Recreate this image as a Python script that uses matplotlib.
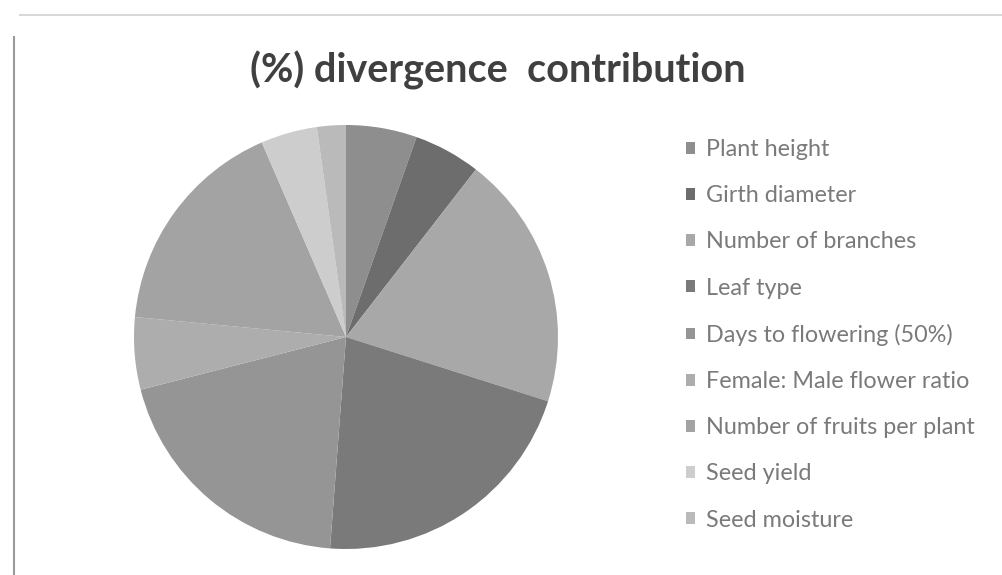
import matplotlib
matplotlib.use("Agg")
from matplotlib import pyplot as plt
from matplotlib.lines import Line2D

# values (% share of divergence)
traits = ["Plant height", "Girth diameter", "Number of branches", "Leaf type",
          "Days to flowering (50%)", "Female: Male flower ratio",
          "Number of fruits per plant", "Seed yield", "Seed moisture"]
contribution = [5.4, 5.1, 19.4, 21.3, 19.8, 5.5, 17.0, 4.3, 2.2]
shades = ["#8e8e8e", "#6d6d6d", "#a8a8a8", "#7a7a7a", "#959595",
          "#adadad", "#a3a3a3", "#cdcdcd", "#bababa"]

W, H = 1002, 575
fig = plt.figure(figsize=(W / 100, H / 100), dpi=100)
fig.patch.set_facecolor("white")

# pie centre and radius in pixels
cx, cy, r = 346, 337, 212
ax = fig.add_axes([(cx - r) / W, (H - cy - r) / H, 2 * r / W, 2 * r / H])
wedges, _ = ax.pie(contribution, colors=shades, startangle=90, counterclock=False,
                   radius=1, wedgeprops=dict(linewidth=0))
ax.set_xlim(-1, 1)
ax.set_ylim(-1, 1)
ax.set_aspect("equal")
ax.axis("off")

fig.text(498 / W, 1 - 70 / H, "(%) divergence  contribution", ha="center", va="center",
         fontsize=28.5, fontweight="bold", color="#404040", family="Lato")

fig.legend(wedges, traits, loc="upper left", bbox_to_anchor=(686 / W, 1 - 139 / H),
           frameon=False, prop={"family": "Lato", "size": 16.8}, labelcolor="#7a7a7a",
           handlelength=0.4, handleheight=0.4, handletextpad=0.45,
           labelspacing=1.08, borderaxespad=0, borderpad=0)

# faint chart-area border (top and left)
fig.add_artist(Line2D([20 / W, 1], [1 - 15 / H, 1 - 15 / H], transform=fig.transFigure,
                      color="#d8d8d8", linewidth=1.5))
fig.add_artist(Line2D([14 / W, 14 / W], [0, 1 - 37 / H], transform=fig.transFigure,
                      color="#9a9a9a", linewidth=1.5))

fig.savefig("out.png", dpi=100)
